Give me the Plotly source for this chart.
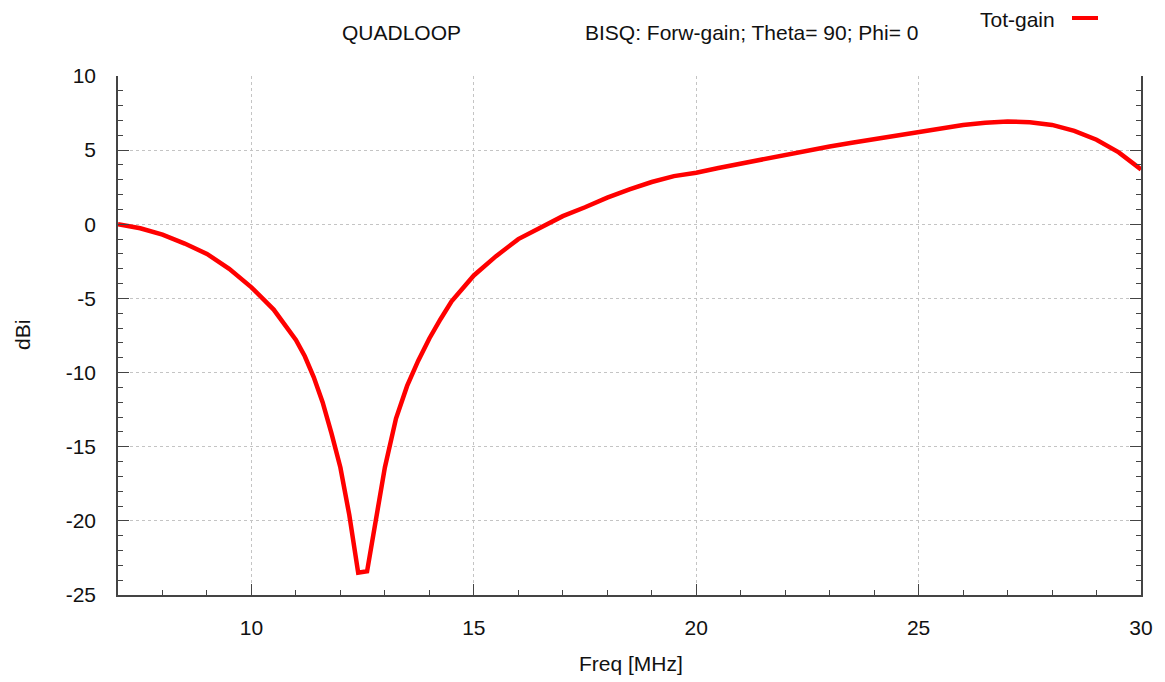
import plotly.graph_objects as go

# Forward gain of the quad loop versus frequency
freq_mhz = [7.0, 7.5, 8.0, 8.5, 9.0, 9.5, 10.0, 10.5, 11.0, 11.2, 11.4, 11.6,
            11.8, 12.0, 12.2, 12.4, 12.6, 12.8, 13.0, 13.25, 13.5, 13.75, 14.0,
            14.25, 14.5, 15.0, 15.5, 16.0, 16.5, 17.0, 17.5, 18.0, 18.5, 19.0,
            19.5, 20.0, 20.5, 21.0, 21.5, 22.0, 22.5, 23.0, 23.5, 24.0, 24.5,
            25.0, 25.5, 26.0, 26.5, 27.0, 27.5, 28.0, 28.5, 29.0, 29.5, 30.0]
tot_gain_dbi = [0.0, -0.27, -0.7, -1.3, -2.0, -3.0, -4.25, -5.75, -7.8, -8.9,
                -10.3, -12.0, -14.1, -16.4, -19.6, -23.5, -23.4, -19.8, -16.4,
                -13.1, -10.9, -9.2, -7.7, -6.4, -5.2, -3.45, -2.15, -1.0,
                -0.2, 0.55, 1.15, 1.8, 2.35, 2.85, 3.25, 3.48, 3.8, 4.1, 4.4,
                4.7, 4.95, 5.25, 5.5, 5.75, 6.0, 6.25, 6.5, 6.7, 6.85, 6.93,
                6.88, 6.7, 6.3, 5.7, 4.85, 3.7]

x_ticks = [10, 15, 20, 25, 30]
y_ticks = [-25, -20, -15, -10, -5, 0, 5, 10]
y_tick_text = ["-25", "-20", "-15", "-10", "-5", "0", "5", "10"]

series_name = "Tot-gain"
title_left = "QUADLOOP"
title_right = "BISQ: Forw-gain; Theta= 90; Phi= 0"

W, H = 1165, 682
L, R, T, B = 118, 1141, 76, 595
FONT = "Liberation Sans, Arial, sans-serif"
AXIS_COL = "#444444"
TEXT_COL = "#111111"
TEXT_SIZE = 21


def px(xp):
    return (xp - L) / (R - L)


def py(yp):
    return (B - yp) / (B - T)


fig = go.Figure()
fig.add_trace(go.Scatter(
    x=freq_mhz, y=tot_gain_dbi, mode="lines", name=series_name,
    line=dict(color="#ff0000", width=4.5), showlegend=False,
))

axis_common = dict(
    showline=True, linecolor=AXIS_COL, linewidth=1.5,
    ticks="inside", ticklen=11, tickwidth=1.2, tickcolor=AXIS_COL,
    showgrid=True, gridcolor="#c4c4c4", gridwidth=1, griddash="3px,3px",
    zeroline=False,
    tickfont=dict(family=FONT, size=TEXT_SIZE, color=TEXT_COL),
)

fig.update_xaxes(
    range=[7, 30], tickvals=x_ticks, mirror=False,
    minor=dict(dtick=1, tick0=0, ticks="inside", ticklen=5,
               tickwidth=1.2, tickcolor=AXIS_COL, showgrid=False),
    ticklabelstandoff=13,
    **axis_common,
)
fig.update_yaxes(
    range=[-25, 10], tickvals=y_ticks, ticktext=y_tick_text, mirror="ticks",
    minor=dict(dtick=1, tick0=0, ticks="inside", ticklen=5,
               tickwidth=1.2, tickcolor=AXIS_COL, showgrid=False),
    ticklabelstandoff=16,
    **axis_common,
)

annotations = [
    dict(text=title_left, x=px(340), y=py(33), xanchor="left", yanchor="middle"),
    dict(text=title_right, x=px(583), y=py(33), xanchor="left", yanchor="middle"),
    dict(text=series_name, x=px(1057), y=py(20), xanchor="right", yanchor="middle"),
    dict(text="dBi", x=px(22), y=py(335), xanchor="center", yanchor="middle",
         textangle=-90),
    dict(text="Freq [MHz]", x=px(631), y=py(663), xanchor="center",
         yanchor="middle"),
]
for a in annotations:
    a.update(xref="paper", yref="paper", showarrow=False,
             font=dict(family=FONT, size=TEXT_SIZE, color=TEXT_COL))

fig.update_layout(
    width=W, height=H,
    margin=dict(l=L, r=W - R, t=T, b=H - B, pad=0),
    paper_bgcolor="white", plot_bgcolor="white",
    annotations=annotations,
    shapes=[dict(type="line", xref="paper", yref="paper",
                 x0=px(1072), x1=px(1098), y0=py(18), y1=py(18),
                 line=dict(color="#ff0000", width=4))],
    showlegend=False,
)

fig.write_html("out.html", config={"displayModeBar": False})
